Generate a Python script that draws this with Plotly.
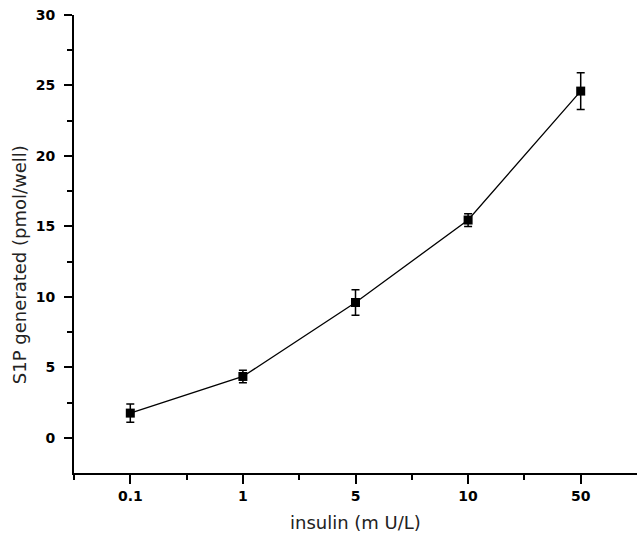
import plotly.graph_objects as go

categories = ["0.1", "1", "5", "10", "50"]
s1p_values = [1.75, 4.35, 9.6, 15.45, 24.6]
s1p_errors = [0.65, 0.45, 0.9, 0.45, 1.3]
y_tick_values = [0, 5, 10, 15, 20, 25, 30]

x_pos = list(range(len(categories)))

fig = go.Figure()
fig.add_trace(go.Scatter(
    x=x_pos, y=s1p_values,
    mode="lines+markers",
    line=dict(color="black", width=1.3),
    marker=dict(symbol="square", size=9, color="black"),
    error_y=dict(type="data", array=s1p_errors, visible=True,
                 color="black", thickness=1.5, width=4),
    showlegend=False,
))

tick_font = dict(family="DejaVu Sans, sans-serif", size=14, color="black")
title_font = dict(family="DejaVu Sans, sans-serif", size=18, color="#222")

fig.update_layout(
    width=637, height=538,
    margin=dict(l=74, r=0, t=15, b=65),
    paper_bgcolor="white", plot_bgcolor="white",
    xaxis=dict(
        range=[-0.5, 4.5],
        tickmode="array", tickvals=x_pos, ticktext=["<b>%s</b>" % c for c in categories],
        ticks="outside", ticklen=9, tickwidth=1.5, tickcolor="black",
        minor=dict(tickvals=[-0.5, 0.5, 1.5, 2.5, 3.5], ticks="outside",
                   ticklen=5, tickwidth=1.5, tickcolor="black"),
        showline=True, linecolor="black", linewidth=2,
        showgrid=False, zeroline=False,
        tickfont=tick_font,
    ),
    yaxis=dict(
        range=[-2.5, 30],
        tickmode="array", tickvals=y_tick_values,
        ticktext=["<b>%d</b>" % v for v in y_tick_values],
        ticks="outside", ticklen=8, tickwidth=1.5, tickcolor="black",
        minor=dict(tickvals=[2.5, 7.5, 12.5, 17.5, 22.5, 27.5], ticks="outside",
                   ticklen=5, tickwidth=1.5, tickcolor="black"),
        showline=True, linecolor="black", linewidth=2,
        showgrid=False, zeroline=False,
        tickfont=tick_font,
        ticklabelstandoff=6,
    ),
    annotations=[
        dict(text="insulin (m U/L)", font=title_font, showarrow=False,
             xref="paper", yref="paper", x=0.5, y=-0.109,
             xanchor="center", yanchor="middle"),
        dict(text="S1P generated (pmol/well)", font=title_font, showarrow=False,
             xref="paper", yref="paper", x=-0.0977, y=0.456, textangle=-90,
             xanchor="center", yanchor="middle"),
    ],
)

fig.write_html("out.html")
